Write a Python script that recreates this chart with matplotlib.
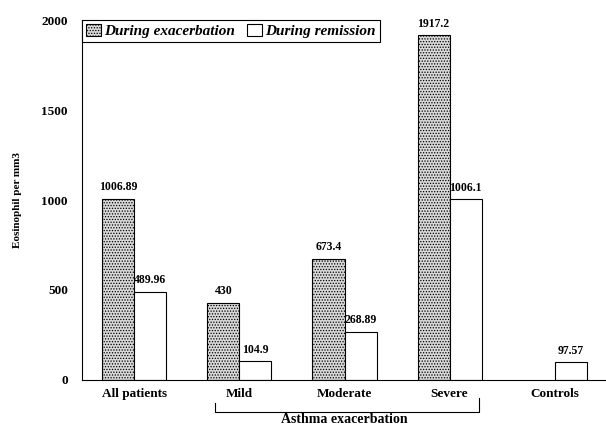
import numpy as np
import matplotlib.pyplot as plt

plt.rcParams['font.family'] = ['Liberation Serif', 'DejaVu Serif']
plt.rcParams['font.weight'] = 'bold'
plt.rcParams['hatch.color'] = '#707070'
plt.rcParams['hatch.linewidth'] = 0.6

groups = ["All patients", "Mild", "Moderate", "Severe", "Controls"]
exacerbation = [1006.89, 430, 673.4, 1917.2, np.nan]
remission = [489.96, 104.9, 268.89, 1006.1, 97.57]
exac_labels = ["1006.89", "430", "673.4", "1917.2", ""]
rem_labels = ["489.96", "104.9", "268.89", "1006.1", "97.57"]

fig = plt.figure(figsize=(6.06, 4.26), dpi=100)
ax = fig.add_axes([0.135, 0.108, 0.867, 0.845])

x = np.arange(len(groups))
w = 0.305
b1 = ax.bar(x - w/2, exacerbation, w, facecolor='#d8d8d8', edgecolor='black',
            hatch='......', linewidth=0.8, label='During exacerbation')
b2 = ax.bar(x + w/2, remission, w, facecolor='white', edgecolor='black',
            linewidth=0.8, label='During remission')

for xi, v, t in zip(x - w/2, exacerbation, exac_labels):
    if t:
        ax.text(xi, v + 30, t, ha='center', va='bottom', fontsize=8.5, fontweight='bold')
for xi, v, t in zip(x + w/2, remission, rem_labels):
    ax.text(xi, v + 30, t, ha='center', va='bottom', fontsize=8.5, fontweight='bold')

ax.set_xlim(-0.5, 4.5)
ax.set_ylim(0, 2000)
ax.set_yticks([0, 500, 1000, 1500, 2000])
ax.set_xticks(x)
ax.set_xticklabels(groups, fontsize=9.5, fontweight='bold')
ax.tick_params(axis='y', length=0, labelsize=9.5, pad=10)
ax.tick_params(axis='x', length=0, pad=6)
for lab in ax.get_yticklabels():
    lab.set_fontweight('bold')
ax.spines['top'].set_visible(False)
ax.spines['right'].set_visible(False)
ax.set_ylabel("Eosinophil per mm3", fontsize=8, fontweight='bold', labelpad=14)

leg = ax.legend(loc='upper left', bbox_to_anchor=(0.0, 1.0), ncol=2, fancybox=False,
                edgecolor='black', framealpha=1, borderaxespad=0, handlelength=1.0,
                handleheight=0.8, handletextpad=0.2, columnspacing=0.8,
                borderpad=0.25, prop={'style': 'italic', 'weight': 'bold', 'size': 11})
leg.get_frame().set_linewidth(0.8)

# bracket under the asthma groups
trans = ax.get_xaxis_transform()
bx0, bx1 = 0.77, 3.28
ax.plot([bx0, bx0, bx1, bx1], [-0.063, -0.09, -0.09, -0.05], color='black',
        lw=0.8, transform=trans, clip_on=False)
ax.text(2, -0.111, "Asthma exacerbation", transform=trans, ha='center', va='center',
        fontsize=10, fontweight='bold')

fig.savefig("out.png", dpi=100)
